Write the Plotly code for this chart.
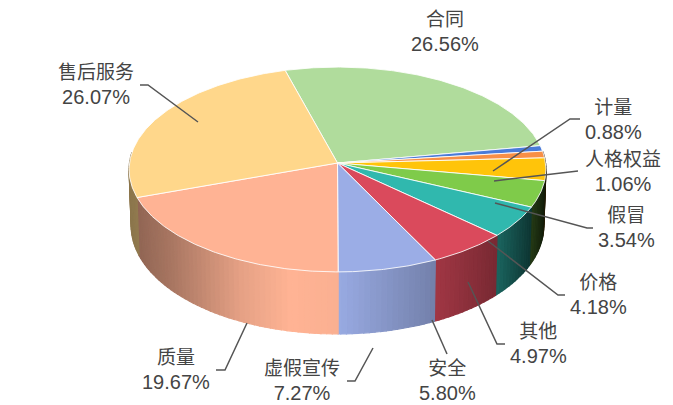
"""3D looking pie chart of complaint categories, drawn with filled scatter polygons"""

import numpy as np
import plotly.graph_objects as go

categories = ["合同", "计量", "人格权益", "假冒", "价格", "其他", "安全", "虚假宣传", "质量", "售后服务"]
values = [26.56, 0.88, 1.06, 3.54, 4.18, 4.97, 5.80, 7.27, 19.67, 26.07]
colors = ["#B0DC9C", "#4A7BD8", "#F88F45", "#FFC40A", "#7FCB4A",
          "#30B8AE", "#DA4A5C", "#9BADE6", "#FFB394", "#FFD78B"]

# label centre in pixels, same order as categories
label_x = [445, 613, 623, 626, 598, 538, 447, 302, 176, 96]
label_y = [32, 120, 172, 228, 295, 344, 381, 381, 370, 85]

# leader lines in pixels, the first one has no line
leaders = [
    None,
    [(493, 171), (570, 119), (580, 119)],
    [(494, 181), (578, 171)],
    [(495, 203), (587, 228), (593, 228)],
    [(488, 241), (558, 295), (565, 295)],
    [(468, 282), (497, 344), (505, 344)],
    [(432, 320), (447, 354)],
    [(373, 348), (355, 381), (347, 381)],
    [(247, 323), (225, 370), (216, 370)],
    [(198, 122), (148, 85), (140, 85)],
]

# projection of the disc (slight perspective, so apex sits above ellipse centre)
CX, CY = 337.5, 163.0
FX, FY = 208.0, 102.0
PERSP = 0.0634
DEPTH = 62.0
START = -15.5
# the page keeps a small margin round the plot, so the axes start there
PAGE_MARGIN = 8


def rim(theta):
    """screen position of the disc edge, theta in degrees clockwise from the top"""
    t = np.radians(theta)
    xx, yy = np.sin(t), -np.cos(t)
    w = 1 - PERSP * yy
    return CX + FX * xx / w, CY + FY * yy / w


def wall_bottom(theta):
    x, y = rim(theta)
    return CX + (x - CX) * 0.99, y + DEPTH * (0.9 + 0.1 * max(0, -np.cos(np.radians(theta))))


def shade(color, x):
    """darken a wall colour depending on the screen x position"""
    b = np.interp(x, [130, 170, 240, 290, 340, 435, 497, 530, 540, 546],
                  [0.55, 0.66, 0.9, 1.0, 0.98, 0.74, 0.55, 0.3, 0.2, 0.12])
    r, g, bl = int(color[1:3], 16), int(color[3:5], 16), int(color[5:7], 16)
    return f"rgb({r * b:.0f},{g * b:.0f},{bl * b:.0f})"


fig = go.Figure()

edges = START + np.concatenate([[0], np.cumsum(values)]) * 3.6 / sum(values) * 100

# side walls, thin strips so the shading can change along the rim
for i, color in enumerate(colors):
    a0, a1 = edges[i], edges[i + 1]
    a = np.arange(a0, a1, 1.5)
    a = np.append(a, a1)
    for t0, t1 in zip(a[:-1], a[1:]):
        if np.cos(np.radians(t0)) > 0.1 and np.cos(np.radians(t1)) > 0.1:
            continue
        p0, p1 = rim(t0), rim(t1)
        q0, q1 = wall_bottom(t0), wall_bottom(t1)
        c = shade(color, (p0[0] + p1[0]) / 2)
        fig.add_trace(go.Scatter(
            x=[p0[0], p1[0], q1[0], q0[0], p0[0]],
            y=[p0[1], p1[1], q1[1], q0[1], p0[1]],
            mode="lines", fill="toself", fillcolor=c,
            line=dict(color=c, width=1.2), hoverinfo="skip"))

# top of the pie
for i, color in enumerate(colors):
    a = np.linspace(edges[i], edges[i + 1], max(3, int(values[i] * 6)))
    xs, ys = rim(a)
    fig.add_trace(go.Scatter(
        x=np.concatenate([[CX], xs, [CX]]),
        y=np.concatenate([[CY], ys, [CY]]),
        mode="lines", fill="toself", fillcolor=color,
        line=dict(color="rgba(255,255,255,0.85)", width=1), hoverinfo="skip"))

# leader lines
for pts in leaders:
    if pts is None:
        continue
    fig.add_trace(go.Scatter(
        x=[p[0] for p in pts], y=[p[1] for p in pts], mode="lines",
        line=dict(color="#555555", width=1.5), hoverinfo="skip"))

for name, val, x, y in zip(categories, values, label_x, label_y):
    fig.add_annotation(x=x, y=y, text=f'{name}<br><span style="font-size:20px">{val:.2f}%</span>',
                       showarrow=False, xanchor="center", yanchor="middle", align="center",
                       font=dict(size=19, color="#444444"))

fig.update_layout(
    width=673 - PAGE_MARGIN, height=405 - PAGE_MARGIN, margin=dict(l=0, r=0, t=0, b=0),
    paper_bgcolor="white", plot_bgcolor="white", showlegend=False,
    font_family="Liberation Sans, Noto Sans CJK SC",
    xaxis=dict(range=[PAGE_MARGIN, 673], visible=False),
    yaxis=dict(range=[405, PAGE_MARGIN], visible=False),
)
fig.write_html("out.html")
